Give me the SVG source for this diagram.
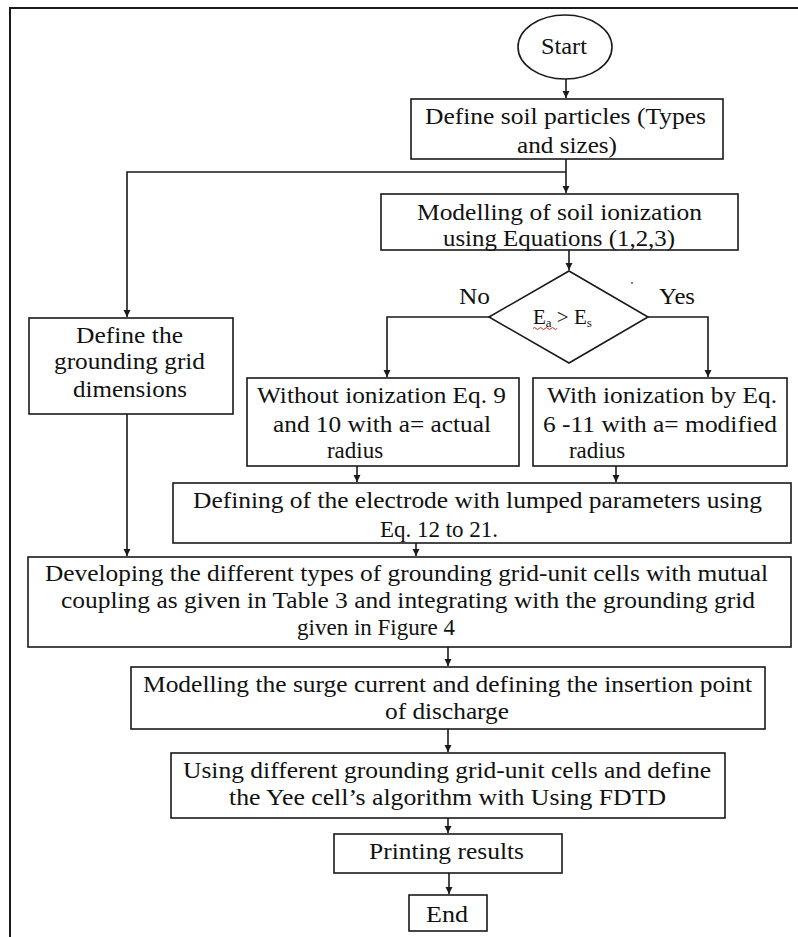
<svg xmlns="http://www.w3.org/2000/svg" width="798" height="937" viewBox="0 0 798 937">
<style>
.b{fill:#fff;stroke:#1a1a1a;stroke-width:1.6}
.c{fill:none;stroke:#1a1a1a;stroke-width:1.6}
</style>
<defs>
<marker id="ah" markerWidth="8" markerHeight="8" refX="7" refY="3.5" orient="auto" markerUnits="userSpaceOnUse">
<path d="M0,0 L7,3.5 L0,7 z" fill="#1a1a1a"/>
</marker>
</defs>
<rect width="798" height="937" fill="#fff"/>
<path d="M10,937 V8 H798" fill="none" stroke="#1a1a1a" stroke-width="2"/>
<g font-family="Liberation Serif, DejaVu Serif, serif" font-size="23" fill="#111">
<g id="start">
<ellipse class="b" cx="565" cy="47" rx="47" ry="32"/>
<text x="541" y="54" textLength="46" lengthAdjust="spacingAndGlyphs">Start</text>
</g>
<g id="soil">
<rect class="b" x="411" y="99" width="312" height="60"/>
<text x="425" y="124" textLength="281" lengthAdjust="spacingAndGlyphs">Define soil particles (Types</text>
<text x="517" y="153" textLength="100" lengthAdjust="spacingAndGlyphs">and sizes)</text>
</g>
<g id="ionization">
<rect class="b" x="381" y="194" width="357" height="56"/>
<text x="417" y="220" textLength="285" lengthAdjust="spacingAndGlyphs">Modelling of soil ionization</text>
<text x="443" y="246" textLength="232" lengthAdjust="spacingAndGlyphs">using Equations (1,2,3)</text>
</g>
<g id="decision">
<polygon class="b" points="569,271 648,317 569,363 489,317"/>
<text x="533" y="324" font-size="21">E<tspan font-size="13" dy="3">a</tspan><tspan dy="-3"> &gt; E</tspan><tspan font-size="13" dy="3">s</tspan></text>
<path d="M533,328.5 q1.5,-2 3,0 t3,0 t3,0 t3,0 t3,0 t3,0 t3,0 t3,0" fill="none" stroke="#e02020" stroke-width="1"/>
<circle cx="632" cy="283" r="1" fill="#3050d0"/>
</g>
<g id="grid">
<rect class="b" x="29" y="318" width="204" height="96"/>
<text x="76" y="343" textLength="107" lengthAdjust="spacingAndGlyphs">Define the</text>
<text x="54" y="369" textLength="151" lengthAdjust="spacingAndGlyphs">grounding grid</text>
<text x="73" y="397" textLength="114" lengthAdjust="spacingAndGlyphs">dimensions</text>
</g>
<g id="without">
<rect class="b" x="247" y="378" width="272" height="88"/>
<text x="257" y="403" textLength="249" lengthAdjust="spacingAndGlyphs">Without ionization Eq. 9</text>
<text x="273" y="432" textLength="218" lengthAdjust="spacingAndGlyphs">and 10 with a= actual</text>
<text x="355" y="458" text-anchor="middle">radius</text>
</g>
<g id="with">
<rect class="b" x="533" y="378" width="254" height="88"/>
<text x="547" y="403" textLength="230" lengthAdjust="spacingAndGlyphs">With ionization by Eq.</text>
<text x="543" y="432" textLength="234" lengthAdjust="spacingAndGlyphs">6 -11 with a= modified</text>
<text x="597" y="458" text-anchor="middle">radius</text>
</g>
<g id="electrode">
<rect class="b" x="173" y="483" width="618" height="60"/>
<text x="193" y="508" textLength="569" lengthAdjust="spacingAndGlyphs">Defining of the electrode with lumped parameters using</text>
<text x="439" y="537" text-anchor="middle">Eq. 12 to 21.</text>
</g>
<g id="developing">
<rect class="b" x="28" y="557" width="763" height="90"/>
<text x="45" y="581" textLength="723" lengthAdjust="spacingAndGlyphs">Developing the different types of grounding grid-unit cells with mutual</text>
<text x="61" y="608" textLength="694" lengthAdjust="spacingAndGlyphs">coupling as given in Table 3 and integrating with the grounding grid</text>
<text x="376" y="635" text-anchor="middle">given in Figure 4</text>
</g>
<g id="surge">
<rect class="b" x="131" y="667" width="634" height="62"/>
<text x="143" y="692" textLength="609" lengthAdjust="spacingAndGlyphs">Modelling the surge current and defining the insertion point</text>
<text x="385" y="719" textLength="124" lengthAdjust="spacingAndGlyphs">of discharge</text>
</g>
<g id="fdtd">
<rect class="b" x="171" y="753" width="554" height="65"/>
<text x="183" y="778" textLength="528" lengthAdjust="spacingAndGlyphs">Using different grounding grid-unit cells and define</text>
<text x="229" y="805" textLength="437" lengthAdjust="spacingAndGlyphs">the Yee cell’s algorithm with Using FDTD</text>
</g>
<g id="printing">
<rect class="b" x="334" y="834" width="228" height="39"/>
<text x="369" y="859" textLength="155" lengthAdjust="spacingAndGlyphs">Printing results</text>
</g>
<g id="end">
<rect class="b" x="409" y="895" width="78" height="36"/>
<text x="426" y="922" textLength="42" lengthAdjust="spacingAndGlyphs">End</text>
</g>

<g id="connectors">
<path class="c" d="M566,79 V98" marker-end="url(#ah)"/>
<path class="c" d="M566,159 V193" marker-end="url(#ah)"/>
<path class="c" d="M566,172 H127 V317" marker-end="url(#ah)"/>
<path class="c" d="M569,250 V270" marker-end="url(#ah)"/>
<path class="c" d="M489,317 H387 V377" marker-end="url(#ah)"/>
<path class="c" d="M648,317 H708 V377" marker-end="url(#ah)"/>
<path class="c" d="M357,466 V482" marker-end="url(#ah)"/>
<path class="c" d="M616,466 V482" marker-end="url(#ah)"/>
<path class="c" d="M127,414 V556" marker-end="url(#ah)"/>
<path class="c" d="M416,543 V556" marker-end="url(#ah)"/>
<path class="c" d="M448,647 V666" marker-end="url(#ah)"/>
<path class="c" d="M448,729 V752" marker-end="url(#ah)"/>
<path class="c" d="M448,818 V833" marker-end="url(#ah)"/>
<path class="c" d="M449,873 V894" marker-end="url(#ah)"/>
<text x="459" y="304" textLength="31" lengthAdjust="spacingAndGlyphs">No</text>
<text x="659" y="304" textLength="36" lengthAdjust="spacingAndGlyphs">Yes</text>
</g>
</g>
</svg>
